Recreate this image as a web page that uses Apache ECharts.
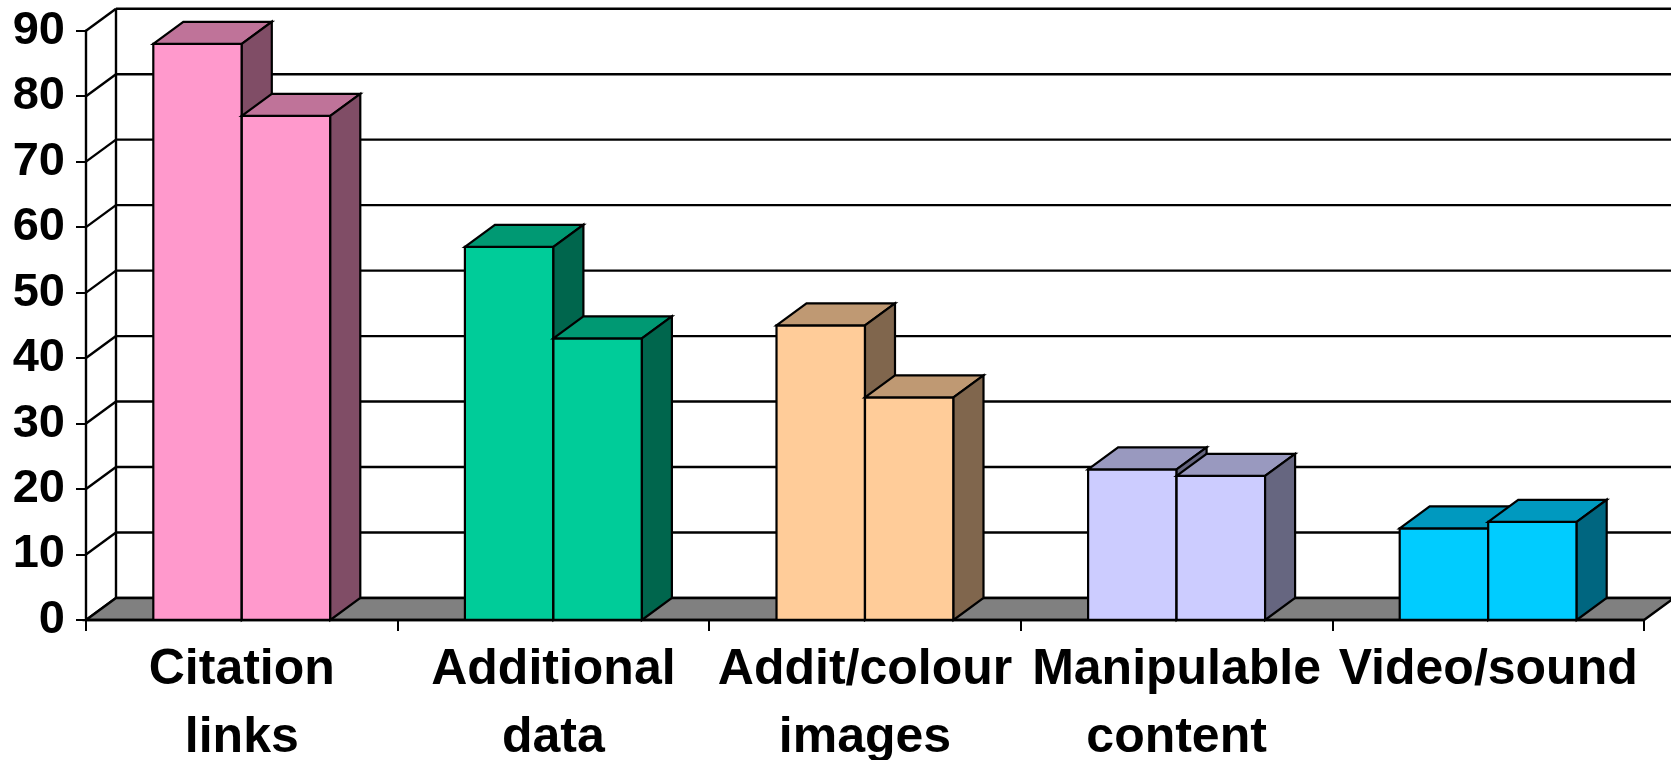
<!DOCTYPE html>
<html>
<head>
<meta charset="utf-8">
<script src="https://cdn.jsdelivr.net/npm/echarts@6/dist/echarts.min.js"></script>
<style>
  html, body { margin: 0; padding: 0; background: #fff; }
  #chart { width: 1671px; height: 760px; }
</style>
</head>
<body>
<div id="chart"></div>
<script>
var categories = ['Citation\nlinks', 'Additional\ndata', 'Addit/colour\nimages', 'Manipulable\ncontent', 'Video/sound'];
var valuesA = [88, 57, 45, 23, 14];
var valuesB = [77, 43, 34, 22, 15];
var yTicks = [0, 10, 20, 30, 40, 50, 60, 70, 80, 90];

// one colour set per category (front, top, side)
var PALETTE = [
  { front: '#FF99CC', top: '#BF7399', side: '#804D66' },
  { front: '#00CC99', top: '#009973', side: '#00664D' },
  { front: '#FFCC99', top: '#BF9973', side: '#80664D' },
  { front: '#CCCCFF', top: '#9999BF', side: '#666680' },
  { front: '#00CCFF', top: '#0099BF', side: '#006680' }
];
var DX = 30, DY = -22;   // depth of the 3d box
var BAR_RATIO = 0.284;
var LINE = { stroke: '#000', lineWidth: 2.4 };

function pairs(vals) {
  return vals.map(function(v, i) { return [i, v]; });
}

function renderBar(slot) {
  return function(params, api) {
    var cat = api.value(0);
    var base = api.coord([cat, 0]);
    var top = api.coord([cat, api.value(1)]);
    var w = api.size([1, 0])[0] * BAR_RATIO;
    var x0 = base[0] + (slot - 1) * w, x1 = x0 + w;
    var y0 = base[1], y1 = top[1];
    var c = PALETTE[cat];
    return {
      type: 'group',
      children: [
        { type: 'polygon', shape: { points: [[x0, y1], [x1, y1], [x1, y0], [x0, y0]] },
          style: { fill: c.front, stroke: '#000', lineWidth: 2.2 } },
        { type: 'polygon', shape: { points: [[x0, y1], [x0 + DX, y1 + DY], [x1 + DX, y1 + DY], [x1, y1]] },
          style: { fill: c.top, stroke: '#000', lineWidth: 2.2 } },
        { type: 'polygon', shape: { points: [[x1, y1], [x1 + DX, y1 + DY], [x1 + DX, y0 + DY], [x1, y0]] },
          style: { fill: c.side, stroke: '#000', lineWidth: 2.2 } }
      ]
    };
  };
}

function renderWall(params, api) {
  var cs = params.coordSys;
  var p = api.coord([0, api.value(1)]);
  var y = p[1];
  return {
    type: 'group',
    children: [
      { type: 'line', shape: { x1: cs.x, y1: y, x2: cs.x + DX, y2: y + DY }, style: LINE },
      { type: 'line', shape: { x1: cs.x + DX, y1: y + DY, x2: cs.x + cs.width + DX, y2: y + DY }, style: LINE }
    ]
  };
}

function renderFloor(params, api) {
  var cs = params.coordSys;
  var y0 = api.coord([0, yTicks[0]])[1];
  var yTop = api.coord([0, yTicks[yTicks.length - 1]])[1];
  var xl = cs.x, xr = cs.x + cs.width;
  return {
    type: 'group',
    children: [
      { type: 'line', shape: { x1: xl + DX, y1: y0 + DY, x2: xl + DX, y2: yTop + DY }, style: LINE },
      { type: 'polygon', shape: { points: [[xl, y0], [xr, y0], [xr + DX, y0 + DY], [xl + DX, y0 + DY]] },
        style: { fill: '#808080', stroke: '#000', lineWidth: 2.4 } }
    ]
  };
}

var myChart = echarts.init(document.getElementById('chart'));
var Options = {
  animation: false,
  backgroundColor: '#fff',
  grid: { left: 86, right: 27, top: 30.7, bottom: 140, containLabel: false, outerBoundsMode: 'none' },
  xAxis: {
    type: 'category',
    data: categories,
    boundaryGap: true,
    axisLine: { show: true, lineStyle: { color: '#000', width: 2.4 } },
    axisTick: { show: true, length: 11, lineStyle: { color: '#000', width: 2 } },
    axisLabel: {
      interval: 0,
      margin: 16,
      color: '#000',
      fontFamily: 'Liberation Sans, Arial, sans-serif',
      fontWeight: 'bold',
      fontSize: 50,
      lineHeight: 68
    },
    splitLine: { show: false },
    z: 10
  },
  yAxis: {
    type: 'value',
    min: 0,
    max: 90,
    interval: 10,
    axisLine: { show: true, lineStyle: { color: '#000', width: 2.4 } },
    axisTick: { show: true, length: 10, lineStyle: { color: '#000', width: 2 } },
    axisLabel: {
      margin: 21,
      color: '#000',
      fontFamily: 'Liberation Sans, Arial, sans-serif',
      fontWeight: 'bold',
      fontSize: 47
    },
    splitLine: { show: false },
    z: 10
  },
  series: [
    { type: 'custom', name: 'wall', renderItem: renderWall, clip: false, z: 1,
      data: yTicks.map(function(v) { return [0, v]; }), encode: { x: 0, y: 1 } },
    { type: 'custom', name: 'floor', renderItem: renderFloor, clip: false, z: 2,
      data: [[0, 0]], encode: { x: 0, y: 1 } },
    { type: 'custom', name: 'Series 1', renderItem: renderBar(0), clip: false, z: 3,
      data: pairs(valuesA), encode: { x: 0, y: 1 } },
    { type: 'custom', name: 'Series 2', renderItem: renderBar(1), clip: false, z: 4,
      data: pairs(valuesB), encode: { x: 0, y: 1 } }
  ]
};
myChart.setOption(Options);
</script>
</body>
</html>
